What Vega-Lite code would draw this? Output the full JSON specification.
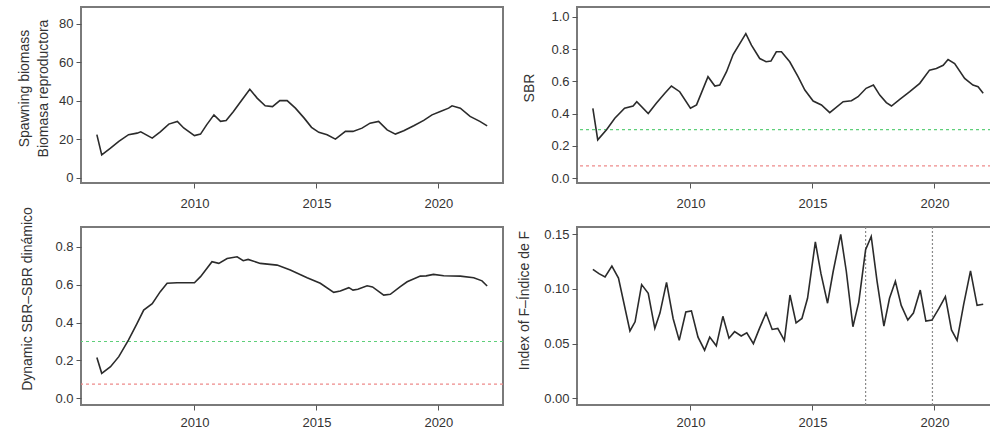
{
  "$schema": "https://vega.github.io/schema/vega-lite/v6.json",
  "padding": {"left": 16, "top": 6, "right": 0, "bottom": 0},
  "background": "white",
  "columns": 2,
  "spacing": {"row": 44, "column": 74},
  "bounds": "flush",
  "datasets": {
    "sb": [
      {"year": 2006.0, "value": 22.5}, {"year": 2006.2, "value": 12}, {"year": 2006.56, "value": 15.5}, {"year": 2006.9, "value": 19},
      {"year": 2007.3, "value": 22.5}, {"year": 2007.65, "value": 23.3}, {"year": 2007.8, "value": 24}, {"year": 2008.27, "value": 20.7},
      {"year": 2008.6, "value": 24}, {"year": 2008.95, "value": 28}, {"year": 2009.3, "value": 29.4}, {"year": 2009.56, "value": 26},
      {"year": 2010.0, "value": 22}, {"year": 2010.25, "value": 22.8}, {"year": 2010.5, "value": 27.6}, {"year": 2010.8, "value": 32.8},
      {"year": 2011.07, "value": 29.4}, {"year": 2011.3, "value": 29.9}, {"year": 2011.6, "value": 34.5}, {"year": 2011.9, "value": 39.7},
      {"year": 2012.27, "value": 46.1}, {"year": 2012.57, "value": 41.5}, {"year": 2012.9, "value": 37.5}, {"year": 2013.2, "value": 37.1},
      {"year": 2013.5, "value": 40.2}, {"year": 2013.8, "value": 40.2}, {"year": 2014.14, "value": 36.3}, {"year": 2014.5, "value": 31.1},
      {"year": 2014.8, "value": 26.3}, {"year": 2015.1, "value": 23.7}, {"year": 2015.44, "value": 22.5}, {"year": 2015.78, "value": 20.2},
      {"year": 2016.19, "value": 24.2}, {"year": 2016.5, "value": 24.2}, {"year": 2016.87, "value": 25.9}, {"year": 2017.2, "value": 28.5},
      {"year": 2017.55, "value": 29.4}, {"year": 2017.9, "value": 25}, {"year": 2018.24, "value": 22.8}, {"year": 2018.58, "value": 24.5},
      {"year": 2018.99, "value": 27.1}, {"year": 2019.4, "value": 29.9}, {"year": 2019.74, "value": 32.8}, {"year": 2020.08, "value": 34.5},
      {"year": 2020.42, "value": 36.3}, {"year": 2020.56, "value": 37.5}, {"year": 2020.9, "value": 36.3}, {"year": 2021.3, "value": 32},
      {"year": 2021.7, "value": 29.4}, {"year": 2022.0, "value": 27.1}
    ],
    "sbr": [
      {"year": 2006.0, "value": 0.433}, {"year": 2006.2, "value": 0.237}, {"year": 2006.56, "value": 0.30}, {"year": 2006.9, "value": 0.371},
      {"year": 2007.3, "value": 0.433}, {"year": 2007.65, "value": 0.447}, {"year": 2007.8, "value": 0.474}, {"year": 2008.27, "value": 0.40},
      {"year": 2008.6, "value": 0.464}, {"year": 2008.95, "value": 0.526}, {"year": 2009.22, "value": 0.571}, {"year": 2009.56, "value": 0.536},
      {"year": 2010.0, "value": 0.433}, {"year": 2010.25, "value": 0.454}, {"year": 2010.72, "value": 0.629}, {"year": 2011.0, "value": 0.571},
      {"year": 2011.2, "value": 0.577}, {"year": 2011.48, "value": 0.66}, {"year": 2011.75, "value": 0.767}, {"year": 2012.27, "value": 0.897},
      {"year": 2012.5, "value": 0.825}, {"year": 2012.84, "value": 0.742}, {"year": 2013.1, "value": 0.722}, {"year": 2013.3, "value": 0.726},
      {"year": 2013.52, "value": 0.784}, {"year": 2013.73, "value": 0.784}, {"year": 2014.07, "value": 0.722}, {"year": 2014.41, "value": 0.629},
      {"year": 2014.69, "value": 0.546}, {"year": 2015.03, "value": 0.478}, {"year": 2015.37, "value": 0.454}, {"year": 2015.71, "value": 0.406},
      {"year": 2016.26, "value": 0.474}, {"year": 2016.6, "value": 0.48}, {"year": 2016.87, "value": 0.505}, {"year": 2017.2, "value": 0.557},
      {"year": 2017.5, "value": 0.577}, {"year": 2017.76, "value": 0.515}, {"year": 2018.03, "value": 0.468}, {"year": 2018.24, "value": 0.447},
      {"year": 2018.58, "value": 0.489}, {"year": 2018.99, "value": 0.536}, {"year": 2019.4, "value": 0.588}, {"year": 2019.8, "value": 0.67},
      {"year": 2020.08, "value": 0.68}, {"year": 2020.36, "value": 0.70}, {"year": 2020.56, "value": 0.736}, {"year": 2020.83, "value": 0.711},
      {"year": 2021.24, "value": 0.619}, {"year": 2021.58, "value": 0.577}, {"year": 2021.79, "value": 0.567}, {"year": 2022.0, "value": 0.526}
    ],
    "dsbr": [
      {"year": 2006.0, "value": 0.216}, {"year": 2006.2, "value": 0.132}, {"year": 2006.56, "value": 0.167}, {"year": 2006.9, "value": 0.22},
      {"year": 2007.3, "value": 0.308}, {"year": 2007.65, "value": 0.396}, {"year": 2007.92, "value": 0.466}, {"year": 2008.27, "value": 0.50},
      {"year": 2008.6, "value": 0.563}, {"year": 2008.88, "value": 0.607}, {"year": 2009.29, "value": 0.61}, {"year": 2010.0, "value": 0.61},
      {"year": 2010.25, "value": 0.642}, {"year": 2010.72, "value": 0.721}, {"year": 2011.0, "value": 0.712}, {"year": 2011.34, "value": 0.738},
      {"year": 2011.75, "value": 0.747}, {"year": 2012.0, "value": 0.726}, {"year": 2012.2, "value": 0.733}, {"year": 2012.7, "value": 0.712},
      {"year": 2013.39, "value": 0.703}, {"year": 2013.93, "value": 0.677}, {"year": 2014.62, "value": 0.636}, {"year": 2015.16, "value": 0.607},
      {"year": 2015.71, "value": 0.559}, {"year": 2015.98, "value": 0.566}, {"year": 2016.33, "value": 0.584}, {"year": 2016.5, "value": 0.571},
      {"year": 2016.7, "value": 0.576}, {"year": 2017.08, "value": 0.594}, {"year": 2017.3, "value": 0.588}, {"year": 2017.76, "value": 0.545},
      {"year": 2018.03, "value": 0.549}, {"year": 2018.44, "value": 0.589}, {"year": 2018.72, "value": 0.615}, {"year": 2019.26, "value": 0.645},
      {"year": 2019.5, "value": 0.646}, {"year": 2019.8, "value": 0.654}, {"year": 2020.22, "value": 0.647}, {"year": 2020.9, "value": 0.645},
      {"year": 2021.45, "value": 0.636}, {"year": 2021.79, "value": 0.62}, {"year": 2022.0, "value": 0.593}
    ],
    "findex": [
      {"year": 2006.0, "value": 0.118}, {"year": 2006.25, "value": 0.114}, {"year": 2006.5, "value": 0.111}, {"year": 2006.78, "value": 0.121},
      {"year": 2007.05, "value": 0.110}, {"year": 2007.52, "value": 0.0616}, {"year": 2007.73, "value": 0.070}, {"year": 2008.0, "value": 0.104},
      {"year": 2008.27, "value": 0.096}, {"year": 2008.54, "value": 0.064}, {"year": 2008.75, "value": 0.078}, {"year": 2009.02, "value": 0.106},
      {"year": 2009.29, "value": 0.073}, {"year": 2009.54, "value": 0.053}, {"year": 2009.81, "value": 0.079}, {"year": 2010.04, "value": 0.080},
      {"year": 2010.31, "value": 0.056}, {"year": 2010.58, "value": 0.044}, {"year": 2010.79, "value": 0.056}, {"year": 2011.06, "value": 0.048},
      {"year": 2011.33, "value": 0.075}, {"year": 2011.58, "value": 0.055}, {"year": 2011.81, "value": 0.061}, {"year": 2012.08, "value": 0.057},
      {"year": 2012.31, "value": 0.060}, {"year": 2012.58, "value": 0.050}, {"year": 2012.83, "value": 0.064}, {"year": 2013.1, "value": 0.078},
      {"year": 2013.35, "value": 0.063}, {"year": 2013.58, "value": 0.064}, {"year": 2013.85, "value": 0.053}, {"year": 2014.08, "value": 0.0945},
      {"year": 2014.33, "value": 0.069}, {"year": 2014.57, "value": 0.073}, {"year": 2014.8, "value": 0.0915}, {"year": 2015.12, "value": 0.143},
      {"year": 2015.35, "value": 0.114}, {"year": 2015.62, "value": 0.087}, {"year": 2015.85, "value": 0.116}, {"year": 2016.16, "value": 0.150},
      {"year": 2016.39, "value": 0.116}, {"year": 2016.66, "value": 0.0655}, {"year": 2016.9, "value": 0.088}, {"year": 2017.18, "value": 0.136},
      {"year": 2017.41, "value": 0.148}, {"year": 2017.65, "value": 0.107}, {"year": 2017.93, "value": 0.066}, {"year": 2018.16, "value": 0.0915},
      {"year": 2018.4, "value": 0.107}, {"year": 2018.64, "value": 0.085}, {"year": 2018.91, "value": 0.0716}, {"year": 2019.14, "value": 0.078},
      {"year": 2019.42, "value": 0.099}, {"year": 2019.65, "value": 0.0707}, {"year": 2019.9, "value": 0.0716}, {"year": 2020.18, "value": 0.082},
      {"year": 2020.45, "value": 0.093}, {"year": 2020.7, "value": 0.0625}, {"year": 2020.93, "value": 0.053}, {"year": 2021.2, "value": 0.086},
      {"year": 2021.48, "value": 0.1165}, {"year": 2021.75, "value": 0.085}, {"year": 2022.0, "value": 0.086}
    ],
    "refs": [
      {"level": 0.3, "kind": "limit"},
      {"level": 0.075, "kind": "target"}
    ],
    "fyears": [
      {"year": 2017.18},
      {"year": 2019.92}
    ]
  },
  "concat": [
    {
      "width": 422, "height": 176,
      "layer": [
        {
          "data": {"name": "sb"},
          "mark": {"type": "line", "color": "#2b2b2b", "strokeWidth": 1.6},
          "encoding": {
            "x": {"field": "year", "type": "quantitative", "scale": {"domain": [2005.35, 2022.65], "nice": false, "zero": false},
                  "axis": {"values": [2010, 2015, 2020], "format": "d", "title": null}},
            "y": {"field": "value", "type": "quantitative", "scale": {"domain": [-2.6, 88.83], "nice": false, "zero": false},
                  "axis": {"values": [0, 20, 40, 60, 80], "format": "d", "title": ["Spawning biomass", "Biomasa reproductora"], "titleX": -56.5, "titleY": 81}}
          }
        }
      ]
    },
    {
      "width": 414, "height": 176,
      "layer": [
        {
          "data": {"name": "refs"},
          "mark": {"type": "rule", "strokeDash": [3, 3], "strokeWidth": 1.2},
          "encoding": {
            "y": {"field": "level", "type": "quantitative", "scale": {"domain": [-0.031, 1.062], "nice": false, "zero": false},
                  "axis": {"values": [0, 0.2, 0.4, 0.6, 0.8, 1.0], "format": ".1f", "title": "SBR", "titleX": -48, "titleY": 80.5}},
            "color": {"field": "kind", "type": "nominal", "scale": {"domain": ["limit", "target"], "range": ["#5fcf7a", "#ee8a8a"]}, "legend": null}
          }
        },
        {
          "data": {"name": "sbr"},
          "mark": {"type": "line", "color": "#2b2b2b", "strokeWidth": 1.6},
          "encoding": {
            "x": {"field": "year", "type": "quantitative", "scale": {"domain": [2005.35, 2022.32], "nice": false, "zero": false},
                  "axis": {"values": [2010, 2015, 2020], "format": "d", "title": null}},
            "y": {"field": "value", "type": "quantitative", "scale": {"domain": [-0.031, 1.062], "nice": false, "zero": false},
                  "axis": {"values": [0, 0.2, 0.4, 0.6, 0.8, 1.0], "format": ".1f", "title": "SBR", "titleX": -48, "titleY": 80.5}}
          }
        }
      ]
    },
    {
      "width": 422, "height": 178,
      "layer": [
        {
          "data": {"name": "refs"},
          "mark": {"type": "rule", "strokeDash": [3, 3], "strokeWidth": 1.2},
          "encoding": {
            "y": {"field": "level", "type": "quantitative", "scale": {"domain": [-0.035, 0.904], "nice": false, "zero": false},
                  "axis": {"values": [0, 0.2, 0.4, 0.6, 0.8], "format": ".1f", "title": "Dynamic SBR–SBR dinámico", "titleX": -53.3, "titleY": 71.5}},
            "color": {"field": "kind", "type": "nominal", "scale": {"domain": ["limit", "target"], "range": ["#5fcf7a", "#ee8a8a"]}, "legend": null}
          }
        },
        {
          "data": {"name": "dsbr"},
          "mark": {"type": "line", "color": "#2b2b2b", "strokeWidth": 1.6},
          "encoding": {
            "x": {"field": "year", "type": "quantitative", "scale": {"domain": [2005.35, 2022.65], "nice": false, "zero": false},
                  "axis": {"values": [2010, 2015, 2020], "format": "d", "title": null, "labelPadding": 6}},
            "y": {"field": "value", "type": "quantitative", "scale": {"domain": [-0.035, 0.904], "nice": false, "zero": false},
                  "axis": {"values": [0, 0.2, 0.4, 0.6, 0.8], "format": ".1f", "title": "Dynamic SBR–SBR dinámico", "titleX": -53.3, "titleY": 71.5}}
          }
        }
      ]
    },
    {
      "width": 414, "height": 178,
      "layer": [
        {
          "data": {"name": "fyears"},
          "mark": {"type": "rule", "color": "#8a8a8a", "strokeDash": [2, 2], "strokeWidth": 1.2},
          "encoding": {
            "x": {"field": "year", "type": "quantitative", "scale": {"domain": [2005.35, 2022.32], "nice": false, "zero": false},
                  "axis": {"values": [2010, 2015, 2020], "format": "d", "title": null, "labelPadding": 6}}
          }
        },
        {
          "data": {"name": "findex"},
          "mark": {"type": "line", "color": "#2b2b2b", "strokeWidth": 1.6},
          "encoding": {
            "x": {"field": "year", "type": "quantitative", "scale": {"domain": [2005.35, 2022.32], "nice": false, "zero": false},
                  "axis": {"values": [2010, 2015, 2020], "format": "d", "title": null, "labelPadding": 6}},
            "y": {"field": "value", "type": "quantitative", "scale": {"domain": [-0.0061, 0.1567], "nice": false, "zero": false},
                  "axis": {"values": [0, 0.05, 0.1, 0.15], "format": ".2f", "title": "Index of F–Índice de F", "titleX": -53, "titleY": 73}}
          }
        }
      ]
    }
  ],
  "config": {
    "view": {"stroke": "#7a7a7a", "strokeWidth": 2},
    "axis": {
      "domain": false, "grid": false, "labelOverlap": false,
      "tickColor": "#555", "tickSize": 5, "tickWidth": 1,
      "labelFont": "Liberation Sans", "labelFontSize": 13, "labelColor": "#333", "labelPadding": 3,
      "titleFont": "Liberation Sans", "titleFontSize": 14, "titleFontWeight": "normal", "titleColor": "#333"
    },
    "axisX": {"labelPadding": 9},
    "axisY": {"titleBaseline": "middle", "titleLineHeight": 19}
  }
}
